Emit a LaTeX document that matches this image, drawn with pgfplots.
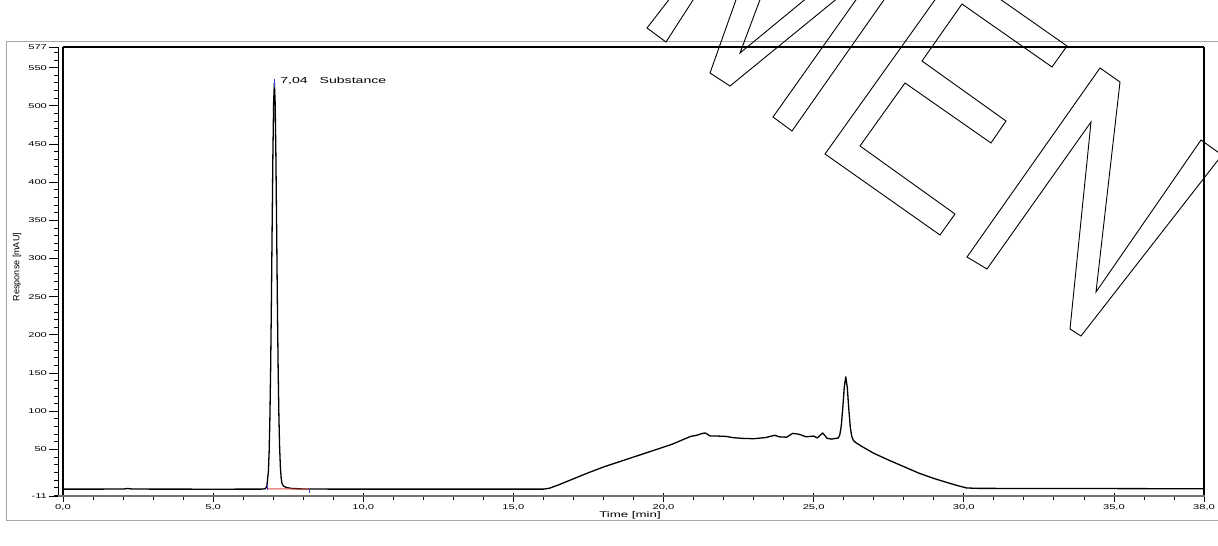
\documentclass[border=0pt]{standalone}
\usepackage{pgfplots}
\pgfplotsset{compat=1.18}
\usepackage{fontspec}
\setmainfont{Liberation Sans}
\newfontfamily\wide[FakeStretch=1.6]{Liberation Sans}
\definecolor{redbl}{HTML}{E04848}
\definecolor{bluemk}{HTML}{3A3AE0}
\begin{document}
\begin{tikzpicture}
\begin{axis}[
  at={(0pt,0pt)}, anchor=south west,
  scale only axis, width=1141pt, height=449pt,
  xmin=0, xmax=38, ymin=-11, ymax=577,
  axis line style={draw=none},
  tick align=outside, tick pos=left,
  xtick={0,5,10,15,20,25,30,35,38},
  xticklabels={{0,0},{5,0},{10,0},{15,0},{20,0},{25,0},{30,0},{35,0},{38,0}},
  minor xtick={1,2,3,4,6,7,8,9,11,12,13,14,16,17,18,19,21,22,23,24,26,27,28,29,31,32,33,34,36,37},
  ytick={-11,50,100,150,200,250,300,350,400,450,500,550,577},
  yticklabels={-11,50,100,150,200,250,300,350,400,450,500,550,577},
  minor ytick={-10,0,10,20,...,570},
  x tick label style={font=\wide\fontsize{7}{8}\selectfont, yshift=3.5pt},
  y tick label style={font=\wide\fontsize{7}{8}\selectfont, xshift=-3.5pt},
  major tick length=9pt, minor tick length=4pt,
  tick style={black, line width=0.8pt},
  every major y tick/.append style={xshift=-5pt},
  every minor y tick/.append style={xshift=-5pt},
  every major x tick/.append style={yshift=3pt},
  every minor x tick/.append style={yshift=0pt},
]
\addplot[black, line width=1.3pt, line join=round] coordinates {
(0,-2) (1,-2) (2,-1.9) (2.15,-1.2) (2.3,-1.8) (3,-2) (4,-2) (5,-2.1) (6,-2) (6.6,-2)
(6.74,-1.5) (6.79,2) (6.84,21) (6.865,46.5) (6.89,90) (6.915,155) (6.94,241) (6.965,340)
(6.99,435) (7.015,504) (7.04,530) (7.065,504) (7.09,435) (7.115,340) (7.14,241) (7.165,157)
(7.19,94) (7.215,52) (7.24,27) (7.265,13) (7.29,6) (7.34,2) (7.45,0) (7.6,-1) (8,-1.8)
(9,-2) (10,-2) (12,-2) (14,-2) (15,-2) (16,-2) (16.2,-0.8) (16.5,3.5) (17,11.5) (17.5,19.5)
(18,27) (18.5,33.5) (19,40) (19.5,46.5) (20,53) (20.3,57) (20.6,62) (20.9,67) (21.1,68.5)
(21.3,71) (21.4,71.5) (21.55,67.5) (21.8,67.5) (22.1,67) (22.3,65.5) (22.6,64.5) (23,64)
(23.4,65.5) (23.7,68.5) (23.85,66.5) (24.1,66) (24.3,71) (24.5,70) (24.75,66.5) (25,67.5)
(25.12,65) (25.3,71.5) (25.45,64.5) (25.6,63.5) (25.82,65) (25.87,69) (25.92,81) (25.97,104.5)
(26.02,132) (26.07,145) (26.12,131) (26.17,103) (26.22,79) (26.27,67) (26.32,62) (26.4,59)
(26.6,54) (27,45) (27.5,36) (28,27.5) (28.5,19) (29,12) (29.5,6) (29.8,2.5) (30.1,-0.5)
(30.5,-1) (33,-1.2) (35,-1.3) (38,-1.5)
};
\addplot[redbl, line width=1pt] coordinates {(6.8,-1.6) (8.2,-2)};
\addplot[bluemk, line width=1.2pt] coordinates {(6.8,-2.5) (6.8,5)};
\addplot[bluemk, line width=1.2pt] coordinates {(8.2,-6.5) (8.2,-1.5)};
\addplot[bluemk, line width=1.2pt] coordinates {(7.04,525) (7.04,535)};
\node[anchor=west, inner sep=0pt, font=\wide\fontsize{8.8}{9}\selectfont] at (axis cs:7.23,532) {7,04\hspace{12pt}Substance};
\end{axis}
\begin{scope}[x=1pt,y=-1pt,shift={(-63pt,496pt)}]
  % outer frame
  \draw[black!35, line width=1pt] (1230,42) -- (7,42) -- (7,520) -- (1230,520);
  % axis frame
  \draw[black, line width=1.2pt] (63,47) -- (1204,47);
  \draw[black, line width=1.6pt] (1204,47) -- (1204,496);
  \draw[black, line width=1.8pt] (63,47) -- (63,496);
  \draw[black, line width=1pt] (58,47) -- (58,497);
  \draw[black!55, line width=2.6pt] (58,496) -- (1205,496);
  % labels
  \node[rotate=90, font=\fontsize{9}{10}\selectfont] at (17,267) {Response [mAU]};
  \node[font=\wide\fontsize{8.3}{9}\selectfont] at (630,515) {Time [min]};
  % watermark outline
  \begin{scope}[line width=0.9pt, line join=miter]
    \draw (671,-3) -- (647,28) -- (666,42) -- (695,-3);
    \draw (737,-3) -- (710,73) -- (730,86) -- (839,-3);
    \draw (761,-3) -- (740,53) -- (808,-3);
    \draw (858,-3) -- (773,117) -- (792,131) -- (886,-3);
    \draw (937,-3) -- (825,154) -- (940,235) -- (955,214) -- (860,146) -- (905,83)
          -- (991,143) -- (1006,121) -- (922,61) -- (962,4) -- (1052,67) -- (1067,46) -- (997,-3);
    \draw (1201,140) -- (1096,292) -- (1120,82) -- (1100,68) -- (967,257)
          -- (987,269) -- (1091,122) -- (1070,329) -- (1081,336) -- (1222,155) -- cycle;
  \end{scope}
\end{scope}
\pgfresetboundingbox
\useasboundingbox (-63pt,-50pt) rectangle (1155pt,496pt);
\end{tikzpicture}
\end{document}
